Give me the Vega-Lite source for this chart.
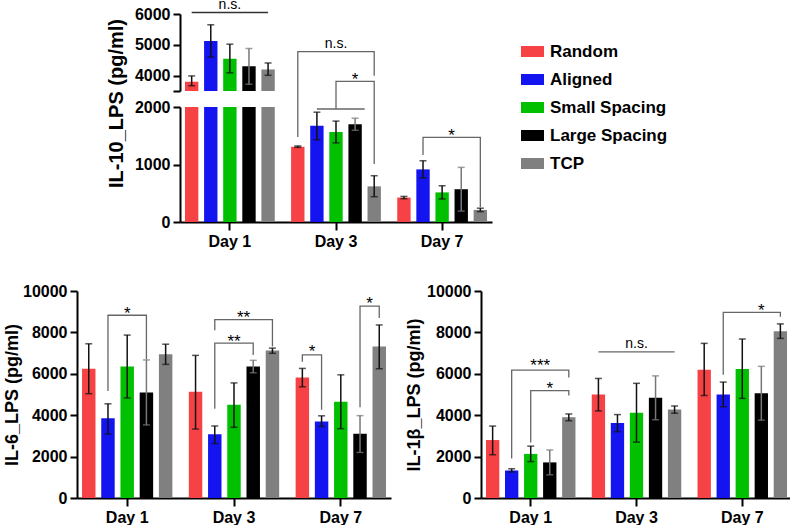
{
"$schema": "https://vega.github.io/schema/vega-lite/v6.json",
"background": "white",
"padding": {"left": 3, "top": -2, "right": 0, "bottom": 0},
"config": {
  "font": "Liberation Sans",
  "view": {"stroke": null},
  "axis": {"domainColor": "#000", "domainWidth": 2, "tickColor": "#000", "tickWidth": 2, "tickSize": 7, "labelFontSize": 16, "labelFontWeight": "bold", "labelColor": "#000", "labelPadding": 3, "labelOverlap": false, "titleFontWeight": "bold", "titleColor": "#000", "grid": false, "tickCount": 10},
  "axisX": {"tickSize": 8, "labelPadding": 3}
},
"datasets": {
  "il10": [
    {"day":"Day 1","g":"Random","m":3800,"lo":3670,"hi":3990},
    {"day":"Day 1","g":"Aligned","m":5120,"lo":4600,"hi":5650},
    {"day":"Day 1","g":"Small Spacing","m":4550,"lo":4090,"hi":5020},
    {"day":"Day 1","g":"Large Spacing","m":4300,"lo":3720,"hi":4880},
    {"day":"Day 1","g":"TCP","m":4200,"lo":4010,"hi":4410},
    {"day":"Day 3","g":"Random","m":1310,"lo":1298,"hi":1322},
    {"day":"Day 3","g":"Aligned","m":1675,"lo":1430,"hi":1910},
    {"day":"Day 3","g":"Small Spacing","m":1565,"lo":1375,"hi":1755},
    {"day":"Day 3","g":"Large Spacing","m":1700,"lo":1595,"hi":1805},
    {"day":"Day 3","g":"TCP","m":620,"lo":440,"hi":805},
    {"day":"Day 7","g":"Random","m":425,"lo":405,"hi":445},
    {"day":"Day 7","g":"Aligned","m":915,"lo":765,"hi":1065},
    {"day":"Day 7","g":"Small Spacing","m":515,"lo":400,"hi":630},
    {"day":"Day 7","g":"Large Spacing","m":570,"lo":190,"hi":950},
    {"day":"Day 7","g":"TCP","m":210,"lo":180,"hi":240}
  ],
  "b10u": [
    {"id":"u1","k":1,"day":"Day 1","at":"Random","v":6048},
    {"id":"u1","k":2,"day":"Day 1","at":"TCP","v":6048}
  ],
  "t10u": [
    {"day":"Day 1","at":"Small Spacing","v":6150,"t":"n.s."}
  ],
  "b10": [
    {"id":"b1","k":1,"day":"Day 3","at":"Random","v":1478},
    {"id":"b1","k":2,"day":"Day 3","at":"Random","v":2962},
    {"id":"b1","k":3,"day":"Day 3","at":"TCP","v":2962},
    {"id":"b1","k":4,"day":"Day 3","at":"TCP","v":2544},
    {"id":"b2","k":1,"day":"Day 3","at":"Small Spacing","v":1965},
    {"id":"b2","k":2,"day":"Day 3","at":"Small Spacing","v":2447},
    {"id":"b2","k":3,"day":"Day 3","at":"TCP","v":2447},
    {"id":"b2","k":4,"day":"Day 3","at":"TCP","v":1009},
    {"id":"b3","k":1,"day":"Day 3","at":"Aligned","v":1965},
    {"id":"b3","k":2,"day":"Day 3","at":"L-T","v":1965},
    {"id":"b4","k":1,"day":"Day 7","at":"Aligned","v":1165},
    {"id":"b4","k":2,"day":"Day 7","at":"Aligned","v":1473},
    {"id":"b4","k":3,"day":"Day 7","at":"TCP","v":1473},
    {"id":"b4","k":4,"day":"Day 7","at":"TCP","v":261}
  ],
  "t10": [
    {"day":"Day 3","at":"Small Spacing","v":3026,"t":"n.s."},
    {"day":"Day 3","at":"Large Spacing","v":2384,"t":"*"},
    {"day":"Day 7","at":"S-L","v":1410,"t":"*"}
  ],
  "il6": [
    {"day":"Day 1","g":"Random","m":6250,"lo":5040,"hi":7450},
    {"day":"Day 1","g":"Aligned","m":3850,"lo":3090,"hi":4550},
    {"day":"Day 1","g":"Small Spacing","m":6350,"lo":4830,"hi":7870},
    {"day":"Day 1","g":"Large Spacing","m":5100,"lo":3530,"hi":6670},
    {"day":"Day 1","g":"TCP","m":6950,"lo":6455,"hi":7430},
    {"day":"Day 3","g":"Random","m":5130,"lo":3330,"hi":6890},
    {"day":"Day 3","g":"Aligned","m":3080,"lo":2630,"hi":3480},
    {"day":"Day 3","g":"Small Spacing","m":4500,"lo":3415,"hi":5560},
    {"day":"Day 3","g":"Large Spacing","m":6350,"lo":6050,"hi":6650},
    {"day":"Day 3","g":"TCP","m":7120,"lo":6990,"hi":7240},
    {"day":"Day 7","g":"Random","m":5820,"lo":5370,"hi":6260},
    {"day":"Day 7","g":"Aligned","m":3700,"lo":3450,"hi":3970},
    {"day":"Day 7","g":"Small Spacing","m":4650,"lo":3350,"hi":5950},
    {"day":"Day 7","g":"Large Spacing","m":3100,"lo":2200,"hi":3980},
    {"day":"Day 7","g":"TCP","m":7320,"lo":6245,"hi":8360}
  ],
  "b6": [
    {"id":"c1","k":1,"day":"Day 1","at":"Aligned","v":5171},
    {"id":"c1","k":2,"day":"Day 1","at":"Aligned","v":8829},
    {"id":"c1","k":3,"day":"Day 1","at":"Large Spacing","v":8829},
    {"id":"c1","k":4,"day":"Day 1","at":"Large Spacing","v":6698},
    {"id":"c2","k":1,"day":"Day 3","at":"Aligned","v":8098},
    {"id":"c2","k":2,"day":"Day 3","at":"Aligned","v":8618},
    {"id":"c2","k":3,"day":"Day 3","at":"TCP","v":8618},
    {"id":"c2","k":4,"day":"Day 3","at":"TCP","v":7317},
    {"id":"c3","k":1,"day":"Day 3","at":"Aligned","v":4309},
    {"id":"c3","k":2,"day":"Day 3","at":"Aligned","v":7480},
    {"id":"c3","k":3,"day":"Day 3","at":"Large Spacing","v":7480},
    {"id":"c3","k":4,"day":"Day 3","at":"Large Spacing","v":6911},
    {"id":"c4","k":1,"day":"Day 7","at":"Random","v":6585},
    {"id":"c4","k":2,"day":"Day 7","at":"Random","v":6911},
    {"id":"c4","k":3,"day":"Day 7","at":"Aligned","v":6911},
    {"id":"c4","k":4,"day":"Day 7","at":"Aligned","v":4260},
    {"id":"c5","k":1,"day":"Day 7","at":"Large Spacing","v":4390},
    {"id":"c5","k":2,"day":"Day 7","at":"Large Spacing","v":9268},
    {"id":"c5","k":3,"day":"Day 7","at":"TCP","v":9268},
    {"id":"c5","k":4,"day":"Day 7","at":"TCP","v":8698}
  ],
  "t6": [
    {"day":"Day 1","at":"Small Spacing","v":8639,"t":"*"},
    {"day":"Day 3","at":"S-L","v":8459,"t":"**"},
    {"day":"Day 3","at":"Small Spacing","v":7288,"t":"**"},
    {"day":"Day 7","at":"R-A","v":6834,"t":"*"},
    {"day":"Day 7","at":"L-T","v":9112,"t":"*"}
  ],
  "il1b": [
    {"day":"Day 1","g":"Random","m":2800,"lo":2090,"hi":3475},
    {"day":"Day 1","g":"Aligned","m":1330,"lo":1255,"hi":1410},
    {"day":"Day 1","g":"Small Spacing","m":2130,"lo":1760,"hi":2505},
    {"day":"Day 1","g":"Large Spacing","m":1720,"lo":1120,"hi":2320},
    {"day":"Day 1","g":"TCP","m":3900,"lo":3730,"hi":4060},
    {"day":"Day 3","g":"Random","m":5000,"lo":4205,"hi":5775},
    {"day":"Day 3","g":"Aligned","m":3620,"lo":3205,"hi":4030},
    {"day":"Day 3","g":"Small Spacing","m":4120,"lo":2700,"hi":5540},
    {"day":"Day 3","g":"Large Spacing","m":4840,"lo":3780,"hi":5900},
    {"day":"Day 3","g":"TCP","m":4270,"lo":4095,"hi":4445},
    {"day":"Day 7","g":"Random","m":6200,"lo":4950,"hi":7470},
    {"day":"Day 7","g":"Aligned","m":5000,"lo":4410,"hi":5600},
    {"day":"Day 7","g":"Small Spacing","m":6230,"lo":4810,"hi":7680},
    {"day":"Day 7","g":"Large Spacing","m":5060,"lo":3760,"hi":6360},
    {"day":"Day 7","g":"TCP","m":8060,"lo":7710,"hi":8410}
  ],
  "b1b": [
    {"id":"d1","k":1,"day":"Day 1","at":"Aligned","v":1904},
    {"id":"d1","k":2,"day":"Day 1","at":"Aligned","v":6173},
    {"id":"d1","k":3,"day":"Day 1","at":"TCP","v":6173},
    {"id":"d1","k":4,"day":"Day 1","at":"TCP","v":5821},
    {"id":"d2","k":1,"day":"Day 1","at":"Small Spacing","v":2680},
    {"id":"d2","k":2,"day":"Day 1","at":"Small Spacing","v":5188},
    {"id":"d2","k":3,"day":"Day 1","at":"TCP","v":5188},
    {"id":"d2","k":4,"day":"Day 1","at":"TCP","v":4950},
    {"id":"d3","k":1,"day":"Day 3","at":"Random","v":7059},
    {"id":"d3","k":2,"day":"Day 3","at":"TCP","v":7059},
    {"id":"d4","k":1,"day":"Day 7","at":"Aligned","v":5950},
    {"id":"d4","k":2,"day":"Day 7","at":"Aligned","v":8964},
    {"id":"d4","k":3,"day":"Day 7","at":"TCP","v":8964},
    {"id":"d4","k":4,"day":"Day 7","at":"TCP","v":8758}
  ],
  "t1b": [
    {"day":"Day 1","at":"S-L","v":6145,"t":"***"},
    {"day":"Day 1","at":"Large Spacing","v":5036,"t":"*"},
    {"day":"Day 3","at":"Small Spacing","v":7235,"t":"n.s."},
    {"day":"Day 7","at":"Large Spacing","v":8811,"t":"*"}
  ]
},
"spacing": 34,
"vconcat": [
 {
  "spacing": 17,
  "hconcat": [
  {"width": 12, "height": 20, "data": {"values": []}, "mark": "point"},
  {
   "spacing": 16,
   "bounds": "flush",
   "vconcat": [
  {
    "width": 312, "height": 77,
    "layer": [
      {"data": {"name": "il10"},
       "encoding": {
         "x": {"field":"day","type":"nominal","title":null,"scale":{"domain":["Day 1","Day 3","Day 7"],"paddingInner":0.1,"paddingOuter":0.02},"axis":null},
         "xOffset": {"field":"g","type":"nominal","scale":{"domain":["Random","Aligned","Small Spacing","Large Spacing","TCP"],"paddingInner":0.3,"paddingOuter":0.15}}
       },
       "layer": [
         {"mark": {"type":"bar","clip":true},
          "encoding": {
            "y": {"field":"m","type":"quantitative","title":null,"scale":{"domain":[3500,6000],"nice":false,"zero":false},"axis":{"values":[3500,4000,5000,6000],"tickCount":10,"format":"d","labelOverlap":false,"labelExpr":"datum.value == 3500 ? '' : datum.label"}},
            "color": {"field":"g","type":"nominal","scale":{"domain":["Random","Aligned","Small Spacing","Large Spacing","TCP"],"range":["#f64244","#1414f0","#00c000","#000000","#808080"]},
              "legend":{"title":null,"orient":"none","legendX":444,"legendY":26,"padding":0,"symbolType":"M-1,-0.48H1V0.48H-1Z","symbolSize":529,"symbolStrokeWidth":0,"symbolOpacity":1,"labelFontSize":17,"labelFontWeight":"bold","labelColor":"#000","labelOffset":6,"rowPadding":8,"labelLimit":300}}
          }},
         {"mark": {"type":"rule","clip":true,"strokeWidth":1.5},
          "encoding": {"y": {"field":"lo","type":"quantitative","title":null,"scale":{"domain":[3500,6000],"nice":false,"zero":false}},"y2":{"field":"hi"},
            "color": {"condition":{"test":"datum.g === 'Large Spacing'","value":"#777"},"value":"#111"}}},
         {"mark": {"type":"tick","clip":true,"thickness":1.5,"size":7},
          "encoding": {"y": {"field":"hi","type":"quantitative","title":null,"scale":{"domain":[3500,6000],"nice":false,"zero":false}},
            "color": {"condition":{"test":"datum.g === 'Large Spacing'","value":"#777"},"value":"#111"}}},
         {"mark": {"type":"tick","clip":true,"thickness":1.5,"size":7},
          "encoding": {"y": {"field":"lo","type":"quantitative","title":null,"scale":{"domain":[3500,6000],"nice":false,"zero":false}},
            "color": {"condition":{"test":"datum.g === 'Large Spacing'","value":"#777"},"value":"#111"}}}
       ]},
      {"data": {"name": "b10u"},
       "mark": {"type":"line","color":"#333","strokeWidth":1.3},
       "encoding": {
         "x": {"field":"day","type":"nominal","title":null,"scale":{"domain":["Day 1","Day 3","Day 7"],"paddingInner":0.1,"paddingOuter":0.02},"axis":null},
         "xOffset": {"field":"at","type":"nominal","scale":{"type":"point","domain":["Random","R-A","Aligned","A-S","Small Spacing","S-L","Large Spacing","L-T","TCP"],"padding":1}},
         "y": {"field":"v","type":"quantitative","title":null,"scale":{"domain":[3500,6000],"nice":false,"zero":false}},
         "detail": {"field":"id"},
         "order": {"field":"k","type":"quantitative"}
       }},
      {"data": {"name": "t10u"},
       "mark": {"type":"text","fontSize":14,"baseline":"alphabetic","color":"#000"},
       "encoding": {
         "x": {"field":"day","type":"nominal","title":null,"scale":{"domain":["Day 1","Day 3","Day 7"],"paddingInner":0.1,"paddingOuter":0.02},"axis":null},
         "xOffset": {"field":"at","type":"nominal","scale":{"type":"point","domain":["Random","R-A","Aligned","A-S","Small Spacing","S-L","Large Spacing","L-T","TCP"],"padding":1}},
         "y": {"field":"v","type":"quantitative","title":null,"scale":{"domain":[3500,6000],"nice":false,"zero":false}},
         "text": {"field":"t"}
       }}
    ],
    "resolve": {"scale": {"xOffset": "independent"}}
  },
  {
    "width": 312, "height": 115,
    "layer": [
      {"data": {"name": "il10"},
       "encoding": {
         "x": {"field":"day","type":"nominal","title":null,"scale":{"domain":["Day 1","Day 3","Day 7"],"paddingInner":0.1,"paddingOuter":0.02},"axis":{"title":null,"labelAngle":0}},
         "xOffset": {"field":"g","type":"nominal","scale":{"domain":["Random","Aligned","Small Spacing","Large Spacing","TCP"],"paddingInner":0.3,"paddingOuter":0.15}}
       },
       "layer": [
         {"mark": {"type":"bar","clip":true},
          "encoding": {
            "y": {"field":"m","type":"quantitative","title":"IL-10_LPS (pg/ml)","scale":{"domain":[0,2000],"nice":false},"axis":{"values":[0,1000,2000],"format":"d","titleFontSize":20,"titleY":-4,"titlePadding":8}},
            "color": {"field":"g","type":"nominal","scale":{"domain":["Random","Aligned","Small Spacing","Large Spacing","TCP"],"range":["#f64244","#1414f0","#00c000","#000000","#808080"]},
              "legend":{"title":null,"orient":"none","legendX":444,"legendY":26,"padding":0,"symbolType":"M-1,-0.48H1V0.48H-1Z","symbolSize":529,"symbolStrokeWidth":0,"symbolOpacity":1,"labelFontSize":17,"labelFontWeight":"bold","labelColor":"#000","labelOffset":6,"rowPadding":8,"labelLimit":300}}
          }},
         {"mark": {"type":"rule","clip":true,"strokeWidth":1.5},
          "encoding": {"y": {"field":"lo","type":"quantitative","title":"IL-10_LPS (pg/ml)","scale":{"domain":[0,2000],"nice":false}},"y2":{"field":"hi"},
            "color": {"condition":{"test":"datum.g === 'Large Spacing'","value":"#777"},"value":"#111"}}},
         {"mark": {"type":"tick","clip":true,"thickness":1.5,"size":7},
          "encoding": {"y": {"field":"hi","type":"quantitative","title":"IL-10_LPS (pg/ml)","scale":{"domain":[0,2000],"nice":false}},
            "color": {"condition":{"test":"datum.g === 'Large Spacing'","value":"#777"},"value":"#111"}}},
         {"mark": {"type":"tick","clip":true,"thickness":1.5,"size":7},
          "encoding": {"y": {"field":"lo","type":"quantitative","title":"IL-10_LPS (pg/ml)","scale":{"domain":[0,2000],"nice":false}},
            "color": {"condition":{"test":"datum.g === 'Large Spacing'","value":"#777"},"value":"#111"}}}
       ]},
      {"data": {"name": "b10"},
       "mark": {"type":"line","color":"#666","strokeWidth":1.3},
       "encoding": {
         "x": {"field":"day","type":"nominal","title":null,"scale":{"domain":["Day 1","Day 3","Day 7"],"paddingInner":0.1,"paddingOuter":0.02},"axis":{"title":null,"labelAngle":0}},
         "xOffset": {"field":"at","type":"nominal","scale":{"type":"point","domain":["Random","R-A","Aligned","A-S","Small Spacing","S-L","Large Spacing","L-T","TCP"],"padding":1}},
         "y": {"field":"v","type":"quantitative","title":"IL-10_LPS (pg/ml)","scale":{"domain":[0,2000],"nice":false}},
         "detail": {"field":"id"},
         "order": {"field":"k","type":"quantitative"}
       }},
      {"data": {"name": "t10"},
       "transform": [{"filter": "datum.t === 'n.s.'"}],
       "mark": {"type":"text","fontSize":14,"baseline":"alphabetic","color":"#000"},
       "encoding": {
         "x": {"field":"day","type":"nominal","title":null,"scale":{"domain":["Day 1","Day 3","Day 7"],"paddingInner":0.1,"paddingOuter":0.02},"axis":{"title":null,"labelAngle":0}},
         "xOffset": {"field":"at","type":"nominal","scale":{"type":"point","domain":["Random","R-A","Aligned","A-S","Small Spacing","S-L","Large Spacing","L-T","TCP"],"padding":1}},
         "y": {"field":"v","type":"quantitative","title":"IL-10_LPS (pg/ml)","scale":{"domain":[0,2000],"nice":false}},
         "text": {"field":"t"}
       }},
      {"data": {"name": "t10"},
       "transform": [{"filter": "datum.t !== 'n.s.'"}],
       "mark": {"type":"text","fontSize":17,"baseline":"alphabetic","color":"#000"},
       "encoding": {
         "x": {"field":"day","type":"nominal","title":null,"scale":{"domain":["Day 1","Day 3","Day 7"],"paddingInner":0.1,"paddingOuter":0.02},"axis":{"title":null,"labelAngle":0}},
         "xOffset": {"field":"at","type":"nominal","scale":{"type":"point","domain":["Random","R-A","Aligned","A-S","Small Spacing","S-L","Large Spacing","L-T","TCP"],"padding":1}},
         "y": {"field":"v","type":"quantitative","title":"IL-10_LPS (pg/ml)","scale":{"domain":[0,2000],"nice":false}},
         "text": {"field":"t"}
       }}
    ],
    "resolve": {"scale": {"xOffset": "independent"}}
  }
   ]
  }
  ]
 },
 {
  "spacing": 90,
  "bounds": "flush",
  "hconcat": [
  {
    "width": 314, "height": 207,
    "layer": [
      {"data": {"name": "il6"},
       "encoding": {
         "x": {"field":"day","type":"nominal","title":null,"scale":{"domain":["Day 1","Day 3","Day 7"],"paddingInner":0.1,"paddingOuter":0.02},"axis":{"title":null,"labelAngle":0}},
         "xOffset": {"field":"g","type":"nominal","scale":{"domain":["Random","Aligned","Small Spacing","Large Spacing","TCP"],"paddingInner":0.3,"paddingOuter":0.15}}
       },
       "layer": [
         {"mark": {"type":"bar","clip":true},
          "encoding": {
            "y": {"field":"m","type":"quantitative","title":"IL-6_LPS (pg/ml)","scale":{"domain":[0,10000],"nice":false},"axis":{"values":[0,2000,4000,6000,8000,10000],"format":"d","titleFontSize":18,"titlePadding":1}},
            "color": {"field":"g","type":"nominal","scale":{"domain":["Random","Aligned","Small Spacing","Large Spacing","TCP"],"range":["#f64244","#1414f0","#00c000","#000000","#808080"]},
              "legend":{"title":null,"orient":"none","legendX":444,"legendY":26,"padding":0,"symbolType":"M-1,-0.48H1V0.48H-1Z","symbolSize":529,"symbolStrokeWidth":0,"symbolOpacity":1,"labelFontSize":17,"labelFontWeight":"bold","labelColor":"#000","labelOffset":6,"rowPadding":8,"labelLimit":300}}
          }},
         {"mark": {"type":"rule","clip":true,"strokeWidth":1.5},
          "encoding": {"y": {"field":"lo","type":"quantitative","title":"IL-6_LPS (pg/ml)","scale":{"domain":[0,10000],"nice":false}},"y2":{"field":"hi"},
            "color": {"condition":{"test":"datum.g === 'Large Spacing'","value":"#777"},"value":"#111"}}},
         {"mark": {"type":"tick","clip":true,"thickness":1.5,"size":7},
          "encoding": {"y": {"field":"hi","type":"quantitative","title":"IL-6_LPS (pg/ml)","scale":{"domain":[0,10000],"nice":false}},
            "color": {"condition":{"test":"datum.g === 'Large Spacing'","value":"#777"},"value":"#111"}}},
         {"mark": {"type":"tick","clip":true,"thickness":1.5,"size":7},
          "encoding": {"y": {"field":"lo","type":"quantitative","title":"IL-6_LPS (pg/ml)","scale":{"domain":[0,10000],"nice":false}},
            "color": {"condition":{"test":"datum.g === 'Large Spacing'","value":"#777"},"value":"#111"}}}
       ]},
      {"data": {"name": "b6"},
       "mark": {"type":"line","color":"#666","strokeWidth":1.3},
       "encoding": {
         "x": {"field":"day","type":"nominal","title":null,"scale":{"domain":["Day 1","Day 3","Day 7"],"paddingInner":0.1,"paddingOuter":0.02},"axis":{"title":null,"labelAngle":0}},
         "xOffset": {"field":"at","type":"nominal","scale":{"type":"point","domain":["Random","R-A","Aligned","A-S","Small Spacing","S-L","Large Spacing","L-T","TCP"],"padding":1}},
         "y": {"field":"v","type":"quantitative","title":"IL-6_LPS (pg/ml)","scale":{"domain":[0,10000],"nice":false}},
         "detail": {"field":"id"},
         "order": {"field":"k","type":"quantitative"}
       }},
      {"data": {"name": "t6"},
       "mark": {"type":"text","fontSize":17,"baseline":"alphabetic","color":"#000"},
       "encoding": {
         "x": {"field":"day","type":"nominal","title":null,"scale":{"domain":["Day 1","Day 3","Day 7"],"paddingInner":0.1,"paddingOuter":0.02},"axis":{"title":null,"labelAngle":0}},
         "xOffset": {"field":"at","type":"nominal","scale":{"type":"point","domain":["Random","R-A","Aligned","A-S","Small Spacing","S-L","Large Spacing","L-T","TCP"],"padding":1}},
         "y": {"field":"v","type":"quantitative","title":"IL-6_LPS (pg/ml)","scale":{"domain":[0,10000],"nice":false}},
         "text": {"field":"t"}
       }}
    ],
    "resolve": {"scale": {"xOffset": "independent"}}
  },
  {
    "width": 311, "height": 207,
    "layer": [
      {"data": {"name": "il1b"},
       "encoding": {
         "x": {"field":"day","type":"nominal","title":null,"scale":{"domain":["Day 1","Day 3","Day 7"],"paddingInner":0.1,"paddingOuter":0.02},"axis":{"title":null,"labelAngle":0}},
         "xOffset": {"field":"g","type":"nominal","scale":{"domain":["Random","Aligned","Small Spacing","Large Spacing","TCP"],"paddingInner":0.3,"paddingOuter":0.15}}
       },
       "layer": [
         {"mark": {"type":"bar","clip":true},
          "encoding": {
            "y": {"field":"m","type":"quantitative","title":"IL-1β_LPS (pg/ml)","scale":{"domain":[0,10000],"nice":false},"axis":{"values":[0,2000,4000,6000,8000,10000],"format":"d","titleFontSize":18,"titlePadding":3}},
            "color": {"field":"g","type":"nominal","scale":{"domain":["Random","Aligned","Small Spacing","Large Spacing","TCP"],"range":["#f64244","#1414f0","#00c000","#000000","#808080"]},
              "legend":{"title":null,"orient":"none","legendX":444,"legendY":26,"padding":0,"symbolType":"M-1,-0.48H1V0.48H-1Z","symbolSize":529,"symbolStrokeWidth":0,"symbolOpacity":1,"labelFontSize":17,"labelFontWeight":"bold","labelColor":"#000","labelOffset":6,"rowPadding":8,"labelLimit":300}}
          }},
         {"mark": {"type":"rule","clip":true,"strokeWidth":1.5},
          "encoding": {"y": {"field":"lo","type":"quantitative","title":"IL-1β_LPS (pg/ml)","scale":{"domain":[0,10000],"nice":false}},"y2":{"field":"hi"},
            "color": {"condition":{"test":"datum.g === 'Large Spacing'","value":"#777"},"value":"#111"}}},
         {"mark": {"type":"tick","clip":true,"thickness":1.5,"size":7},
          "encoding": {"y": {"field":"hi","type":"quantitative","title":"IL-1β_LPS (pg/ml)","scale":{"domain":[0,10000],"nice":false}},
            "color": {"condition":{"test":"datum.g === 'Large Spacing'","value":"#777"},"value":"#111"}}},
         {"mark": {"type":"tick","clip":true,"thickness":1.5,"size":7},
          "encoding": {"y": {"field":"lo","type":"quantitative","title":"IL-1β_LPS (pg/ml)","scale":{"domain":[0,10000],"nice":false}},
            "color": {"condition":{"test":"datum.g === 'Large Spacing'","value":"#777"},"value":"#111"}}}
       ]},
      {"data": {"name": "b1b"},
       "mark": {"type":"line","color":"#666","strokeWidth":1.3},
       "encoding": {
         "x": {"field":"day","type":"nominal","title":null,"scale":{"domain":["Day 1","Day 3","Day 7"],"paddingInner":0.1,"paddingOuter":0.02},"axis":{"title":null,"labelAngle":0}},
         "xOffset": {"field":"at","type":"nominal","scale":{"type":"point","domain":["Random","R-A","Aligned","A-S","Small Spacing","S-L","Large Spacing","L-T","TCP"],"padding":1}},
         "y": {"field":"v","type":"quantitative","title":"IL-1β_LPS (pg/ml)","scale":{"domain":[0,10000],"nice":false}},
         "detail": {"field":"id"},
         "order": {"field":"k","type":"quantitative"}
       }},
      {"data": {"name": "t1b"},
       "transform": [{"filter": "datum.t === 'n.s.'"}],
       "mark": {"type":"text","fontSize":14,"baseline":"alphabetic","color":"#000"},
       "encoding": {
         "x": {"field":"day","type":"nominal","title":null,"scale":{"domain":["Day 1","Day 3","Day 7"],"paddingInner":0.1,"paddingOuter":0.02},"axis":{"title":null,"labelAngle":0}},
         "xOffset": {"field":"at","type":"nominal","scale":{"type":"point","domain":["Random","R-A","Aligned","A-S","Small Spacing","S-L","Large Spacing","L-T","TCP"],"padding":1}},
         "y": {"field":"v","type":"quantitative","title":"IL-1β_LPS (pg/ml)","scale":{"domain":[0,10000],"nice":false}},
         "text": {"field":"t"}
       }},
      {"data": {"name": "t1b"},
       "transform": [{"filter": "datum.t !== 'n.s.'"}],
       "mark": {"type":"text","fontSize":17,"baseline":"alphabetic","color":"#000"},
       "encoding": {
         "x": {"field":"day","type":"nominal","title":null,"scale":{"domain":["Day 1","Day 3","Day 7"],"paddingInner":0.1,"paddingOuter":0.02},"axis":{"title":null,"labelAngle":0}},
         "xOffset": {"field":"at","type":"nominal","scale":{"type":"point","domain":["Random","R-A","Aligned","A-S","Small Spacing","S-L","Large Spacing","L-T","TCP"],"padding":1}},
         "y": {"field":"v","type":"quantitative","title":"IL-1β_LPS (pg/ml)","scale":{"domain":[0,10000],"nice":false}},
         "text": {"field":"t"}
       }}
    ],
    "resolve": {"scale": {"xOffset": "independent"}}
  }
  ]
 }
]
}
